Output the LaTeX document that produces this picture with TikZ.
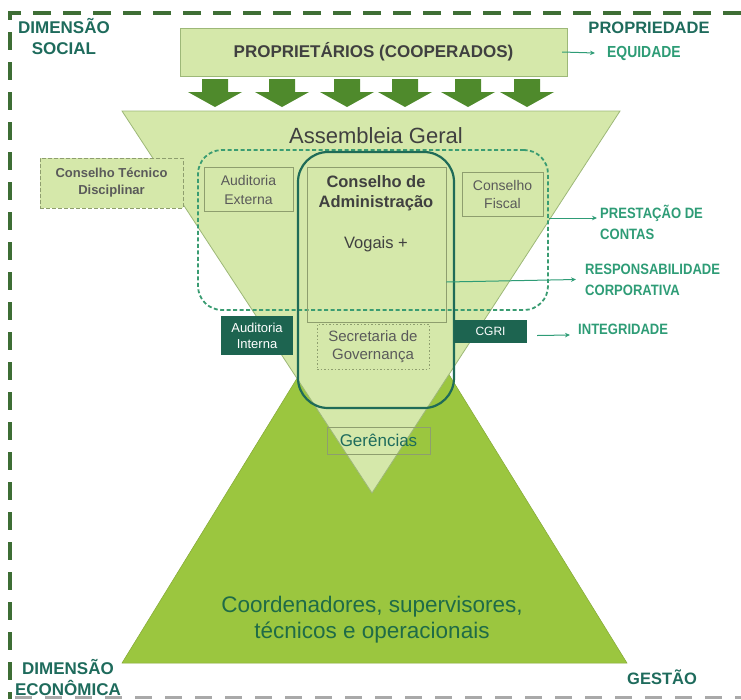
\documentclass[tikz,border=0pt]{standalone}
\usepackage{fontspec}
\setmainfont{Liberation Sans}
\newfontfamily\condfont{Liberation Sans}[FakeStretch=0.87]
\usetikzlibrary{arrows.meta}
\definecolor{cHead}{HTML}{1E6B5C}
\definecolor{cBorder}{HTML}{3E6E35}
\definecolor{cGreyB}{HTML}{A9A9A9}
\definecolor{cLight}{HTML}{D5E8AA}
\definecolor{cLightEdge}{HTML}{9DB878}
\definecolor{cGreen}{HTML}{9BC63F}
\definecolor{cArrow}{HTML}{4F8A2C}
\definecolor{cLabel}{HTML}{2E9C76}
\definecolor{cDash}{HTML}{3A9C72}
\definecolor{cSolid}{HTML}{1F6B58}
\definecolor{cDark}{HTML}{1D6450}
\definecolor{cText}{HTML}{404040}
\definecolor{cTextB}{HTML}{5A5A5A}
\definecolor{cBoxEdge}{HTML}{8E9E6E}
\definecolor{cBase}{HTML}{1F6B47}
\begin{document}
\begin{tikzpicture}[x=1pt,y=-1pt,
  lbl/.style={text=cLabel,font=\condfont\fontsize{15}{21}\selectfont\bfseries,align=left,anchor=west,inner sep=0},
  head/.style={text=cHead,font=\fontsize{17}{21}\selectfont\bfseries,align=center,inner sep=0},
  thinbox/.style={draw=cBoxEdge,line width=0.8pt,inner sep=0,align=center},
  darkbox/.style={fill=cDark,text=white,align=center,inner sep=0,font=\fontsize{13}{16}\selectfont},
  conn/.style={draw=cLabel,line width=1pt,-{Stealth[length=5pt,width=4.5pt]}},
]
\useasboundingbox (0,0) rectangle (741,699);
% outer dashed frame
\draw[cBorder,line width=3.5pt,dash pattern=on 18pt off 12pt] (741,13) -- (10,13) -- (10,699);
\draw[cGreyB,line width=3pt,dash pattern=on 17pt off 13pt] (15,697) -- (741,697);
% triangles
\filldraw[fill=cGreen,draw=cGreen!85!black,line width=0.5pt] (374,253) -- (627,663) -- (122,663) -- cycle;
\filldraw[fill=cLight,draw=cLightEdge,line width=0.8pt] (122,111) -- (620,111) -- (372,493) -- cycle;
% owners box
\node[draw=cLightEdge,fill=cLight,minimum width=387pt,minimum height=48pt,inner sep=0,text=cText,font=\fontsize{17}{20}\selectfont\bfseries] (prop) at (373.5,52) {PROPRIETÁRIOS (COOPERADOS)};
% block arrows
\foreach \x in {215,282,347,405,468,527}
  \fill[cArrow] (\x-13,79) -- (\x+13,79) -- (\x+13,92) -- (\x+27,92) -- (\x,107) -- (\x-27,92) -- (\x-13,92) -- cycle;
\node[text=cText,font=\fontsize{22}{26}\selectfont,inner sep=0] (assembleia) at (376,136) {Assembleia Geral};
% dashed rounded region
\node[draw=cDash,line width=1.8pt,dash pattern=on 4pt off 2.5pt,rounded corners=24pt,minimum width=350pt,minimum height=160pt,inner sep=0] (dashbox) at (373,230) {};
% solid rounded region
\node[draw=cSolid,line width=2.2pt,rounded corners=30pt,minimum width=156pt,minimum height=256pt,inner sep=0] (cabox) at (376,280) {};
% Conselho de Administracao
\node[thinbox,minimum width=139pt,minimum height=155pt] (adm) at (376.5,244.5) {};
\node[text=cText,font=\fontsize{16.5}{20}\selectfont\bfseries,align=center,inner sep=0] (admtitle) at (376,193) {Conselho de\\Administração};
\node[text=cText,font=\fontsize{16.5}{20}\selectfont,inner sep=0] (vogais) at (376,244) {Vogais +};
% side boxes
\node[thinbox,minimum width=89pt,minimum height=44pt,text=cTextB,font=\fontsize{14}{19}\selectfont] (audext) at (248.5,189.5) {Auditoria\\Externa};
\node[thinbox,minimum width=81pt,minimum height=44pt,text=cTextB,font=\fontsize{14}{18}\selectfont] (fiscal) at (502.5,194) {Conselho\\Fiscal};
\node[draw=cBoxEdge,line width=0.8pt,dash pattern=on 4pt off 2pt,fill=cLight,minimum width=143pt,minimum height=50pt,inner sep=0,align=center,text=cTextB,font=\fontsize{13}{17}\selectfont\bfseries] (ctd) at (111.5,183) {Conselho Técnico\\Disciplinar};
% dark boxes
\node[darkbox,minimum width=72pt,minimum height=39pt] (audint) at (257,335.5) {Auditoria\\Interna};
\node[darkbox,minimum width=73pt,minimum height=23pt,font=\fontsize{12}{14}\selectfont] (cgri) at (490.5,331.5) {CGRI};
% secretaria
\node[draw=cBoxEdge,line width=0.8pt,dash pattern=on 1.5pt off 2pt,minimum width=112pt,minimum height=45pt,inner sep=0,align=center,text=cTextB,font=\fontsize{15}{18}\selectfont] (secr) at (373,346.5) {Secretaria de\\Governança};
% gerencias
\node[thinbox,minimum width=103pt,minimum height=27pt,text=cHead,font=\fontsize{17}{20}\selectfont] (ger) at (378.5,440.5) {Gerências};
% base text
\node[text=cBase,font=\fontsize{22.5}{26}\selectfont,align=center,inner sep=0] (base) at (372,620) {Coordenadores, supervisores,\\técnicos e operacionais};
% corner headings
\node[head] (social) at (64,37) {DIMENSÃO\\SOCIAL};
\node[head,font=\fontsize{16.5}{20}\selectfont\bfseries] (propried) at (649,28) {PROPRIEDADE};
\node[head] (econ) at (68,677.5) {DIMENSÃO\\ECONÔMICA};
\node[head,font=\fontsize{16.5}{20}\selectfont\bfseries] (gestao) at (662,677) {GESTÃO};
% right labels
\node[lbl,font=\condfont\fontsize{16}{18}\selectfont\bfseries] (equid) at (607,53) {EQUIDADE};
\node[lbl] (prest) at (600,222) {PRESTAÇÃO DE\\CONTAS};
\node[lbl] (resp) at (585,279.5) {RESPONSABILIDADE\\CORPORATIVA};
\node[lbl] (integ) at (578,329) {INTEGRIDADE};
% connectors
\draw[conn] ([xshift=-5pt]prop.east) -- ([xshift=-12pt]equid.west);
\draw[conn] ([yshift=12pt]dashbox.east) -- ([xshift=-3pt,yshift=4pt]prest.west);
\draw[conn] ([yshift=-37.5pt]adm.east) -- ([xshift=-9pt]resp.west);
\draw[conn] ([xshift=10pt,yshift=-4pt]cgri.east) -- ([xshift=-8pt,yshift=-6pt]integ.west);
\end{tikzpicture}
\end{document}
